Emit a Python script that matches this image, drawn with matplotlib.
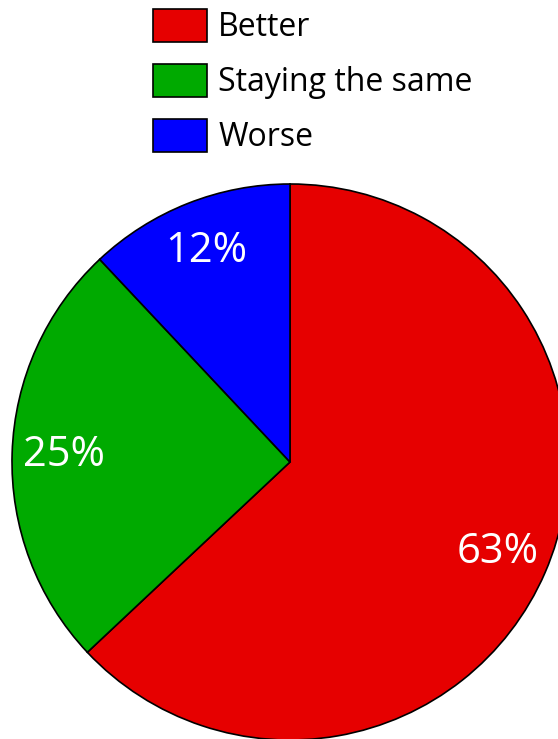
import matplotlib.pyplot as plt

# Data
labels = ["Better", "Staying the same", "Worse"]
shares = [63, 25, 12]
colors = ["#E60000", "#00AA00", "#0000FF"]

W, H = 558, 739
fig = plt.figure(figsize=(W / 100, H / 100), dpi=100)
plt.rcParams["font.family"] = ["Open Sans", "DejaVu Sans"]

# Pie axes: centre ~ (290, 462) px, radius ~ 278 px
cx, cy, r = 290, 462, 278
ax = fig.add_axes([(cx - r) / W, (H - cy - r) / H, 2 * r / W, 2 * r / H])
wedges, texts, autotexts = ax.pie(
    shares,
    colors=colors,
    startangle=90,
    counterclock=False,
    autopct="%d%%",
    pctdistance=0.815,
    wedgeprops=dict(edgecolor="black", linewidth=1.2),
    textprops=dict(color="white", fontsize=30),
)
ax.set_xlim(-1, 1)
ax.set_ylim(-1, 1)
ax.set_aspect("equal")
ax.axis("off")

# Legend top
fig.legend(
    wedges, labels,
    loc="upper left",
    bbox_to_anchor=(153 / W, 1 - 9 / H),
    frameon=False,
    fontsize=23,
    handlelength=1.69,
    handleheight=1.2,
    handletextpad=0.35,
    labelspacing=0.62,
    borderpad=0,
    borderaxespad=0,
)

fig.savefig("out.png", dpi=100)
